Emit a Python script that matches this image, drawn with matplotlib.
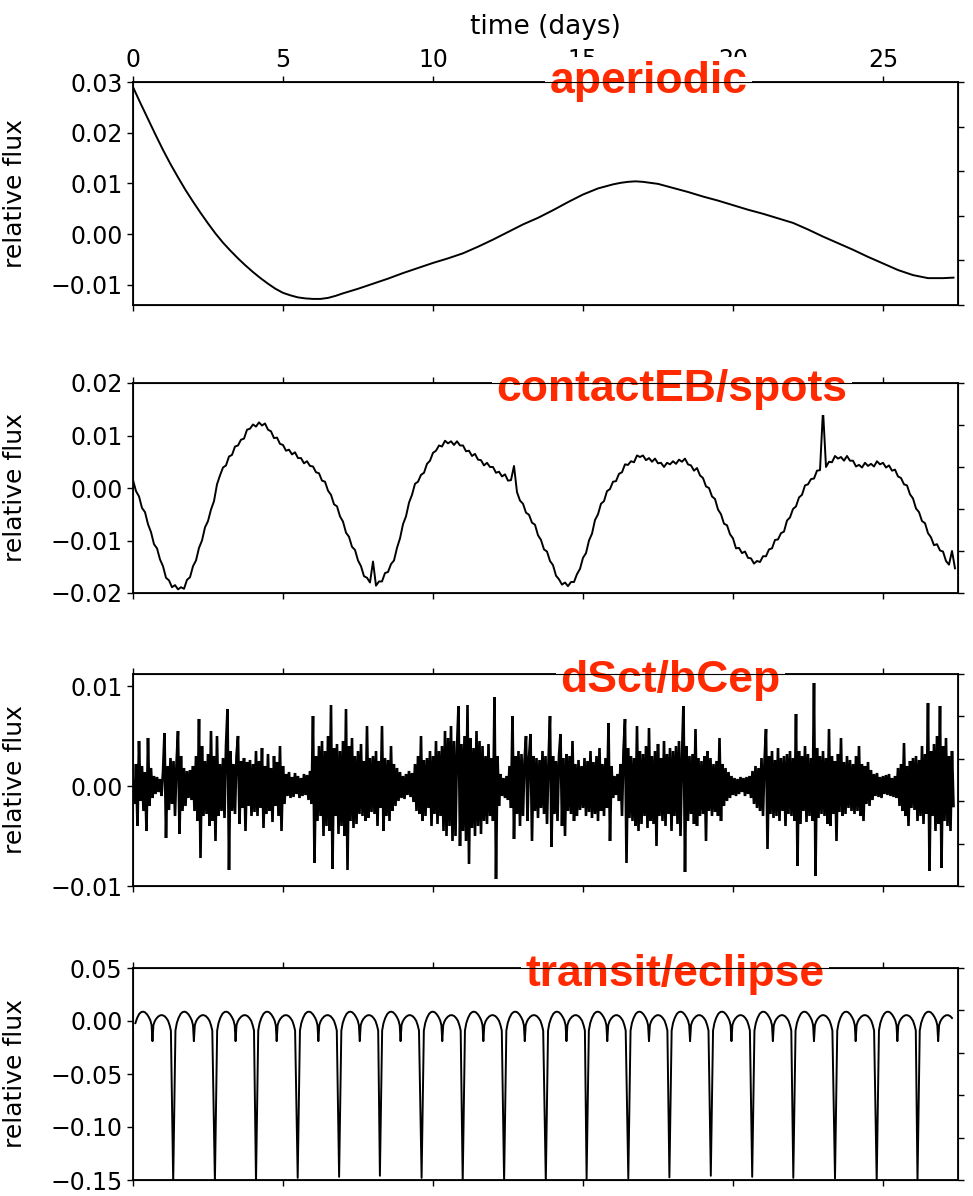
import numpy as np
import matplotlib.pyplot as plt

# ---- aperiodic light curve (days, relative flux in units of 1e-4)
aper_t = [0.0, 0.25, 0.5, 0.75, 1.0, 1.25, 1.5, 1.75, 2.0, 2.25, 2.5, 2.75,
          3.0, 3.25, 3.5, 3.75, 4.0, 4.25, 4.5, 4.75, 5.0, 5.25, 5.5, 5.75,
          6.0, 6.25, 6.5, 6.75, 7.0, 7.5, 8.0, 8.5, 9.0, 9.5, 10.0, 10.5, 11.0,
          11.5, 12.0, 12.5, 13.0, 13.5, 14.0, 14.5, 15.0, 15.5, 16.0, 16.25,
          16.5, 16.75, 17.0, 17.25, 17.5, 18.0, 18.5, 19.0, 19.5, 20.0, 20.5,
          21.0, 21.5, 22.0, 22.5, 23.0, 23.5, 24.0, 24.5, 25.0, 25.5, 26.0,
          26.5, 27.0, 27.35]
aper_flux = [290, 258, 227, 196, 166, 138, 112, 87, 64, 42, 21, 1,
             -17, -33, -48, -62, -75, -87, -98, -108, -116, -121, -125, -127,
             -128, -128, -126, -122, -117, -108, -98, -88, -77, -67, -57, -48, -38,
             -25, -11, 4, 19, 32, 47, 63, 78, 90, 98, 101,
             103, 104, 103, 101, 99, 91, 83, 74, 66, 57, 48,
             40, 31, 22, 9, -5, -18, -31, -45, -58, -71, -81,
             -87, -87, -86]

# ---- contact binary / spots, one value every 0.1 d, in units of 1e-4
contact_step = 0.1
contact_flux = [
    15, -6, -16, -38, -46, -69, -84, -107, -115, -136,
    -149, -171, -176, -189, -185, -193, -189, -192, -175, -170,
    -149, -138, -114, -100, -75, -63, -41, -25, 7, 24,
    39, 43, 60, 63, 79, 81, 92, 94, 111, 113,
    121, 117, 125, 119, 123, 111, 108, 95, 96, 84,
    82, 71, 73, 64, 68, 57, 57, 47, 51, 42,
    41, 30, 28, 14, 12, -5, -13, -31, -35, -54,
    -64, -85, -93, -112, -118, -138, -149, -168, -171, -180,
    -140, -186, -178, -178, -162, -160, -145, -138, -114, -96,
    -69, -54, -28, -13, 8, 12, 25, 29, 46, 52,
    67, 71, 81, 79, 90, 85, 89, 82, 89, 81,
    81, 70, 71, 61, 65, 54, 53, 43, 48, 40,
    40, 29, 31, 22, 26, 14, 15, 42, -8, -24,
    -30, -47, -51, -66, -70, -90, -99, -117, -121, -139,
    -147, -167, -174, -184, -180, -187, -179, -179, -164, -154,
    -133, -124, -100, -87, -61, -50, -30, -25, -6, -2,
    12, 13, 27, 30, 45, 44, 51, 49, 62, 59,
    62, 53, 57, 50, 56, 47, 48, 40, 48, 45,
    51, 46, 54, 50, 56, 45, 43, 33, 38, 24,
    19, 3, 0, -16, -21, -41, -50, -68, -71, -88,
    -96, -115, -114, -124, -121, -133, -134, -144, -139, -141,
    -130, -130, -117, -115, -99, -98, -86, -83, -62, -56,
    -40, -35, -18, -13, 5, 7, 17, 18, 33, 34,
    149, 40, 50, 49, 61, 56, 59, 52, 61, 52,
    52, 41, 44, 39, 48, 42, 46, 41, 51, 45,
    48, 39, 43, 33, 35, 22, 19, 7, 5, -12,
    -20, -39, -46, -63, -67, -86, -94, -109, -107, -119,
    -121, -139, -146, -120, -153,
]

# ---- dSct / bCep pulsator, one value every 0.05 d, in units of 1e-4
dsct_step = 0.05
dsct_flux = [
    5, -18, 22, -40, 45, -15, 20, -25, 14, -45, 48, -20, 18, -12, 10, -8, 9, -6, 7, -10,
    14, 53, -52, 20, -24, 28, -18, 25, -30, 22, 55, -48, 30, -25, 18, -20, 15, -12, 16, -14,
    20, -25, 30, -35, 67, -72, 40, -30, 25, -28, 32, -40, 55, -35, 30, -55, 50, -30, 22, -25,
    28, -32, 40, 77, -84, 35, -25, 22, -28, 30, 50, -38, 25, -22, 28, -45, 24, -20, 26, -30,
    22, -26, 35, -30, 25, -22, 38, -42, 20, -28, 32, -25, 18, -36, 30, -20, 24, -30, 40, -45,
    20, -18, 12, -10, 14, -12, 9, -11, 13, -8, 10, -12, 8, -10, 12, -9, 11, -14, 15, -18,
    70, -77, 30, -35, 40, -30, 45, -50, 35, -40, 50, -45, 81, -83, 38, -30, 42, -48, 35, -40,
    45, -50, 77, -84, 40, -35, 48, -42, 30, -38, 35, -28, 42, -30, 25, -35, 60, -32, 28, -26,
    30, -28, 35, -40, 25, -22, 60, -45, 28, -30, 26, -35, 40, -25, 22, -20, 18, -15, 14, -12,
    10, -13, 12, -9, 15, -11, 13, -16, 22, -25, 30, -28, 50, -35, 26, -30, 28, -22, 35, -40,
    30, -28, 45, -38, 35, -30, 40, -45, 55, -50, 48, -40, 60, -55, 45, -50, 38, 80, -60, 42,
    -45, 50, -55, 81, -78, 48, -42, 38, -50, 55, -40, 45, -48, 40, -35, 30, -38, 42, -30, 28,
    -35, 89, -93, 30, -20, 12, -10, 8, -12, 10, -14, 20, -22, 70, -53, 30, -28, 35, -40, 32,
    -30, 25, 50, -35, 28, 52, -55, 30, -25, 28, -32, 26, -22, 35, -28, 30, -38, 25, 70, -61,
    30, -28, 25, -35, 30, 52, -40, 28, -50, 32, -25, 30, -28, 45, -35, 22, -30, 26, -24, 20,
    -22, 28, -30, 25, -26, 35, -32, 24, -28, 30, -35, 38, -25, 22, -30, 28, -22, 63, -55, 20,
    -12, 10, -9, 12, -15, 22, -30, 35, 67, -77, 38, -32, 30, -35, 28, -40, 60, -45, 35, -38,
    32, -30, 40, -42, 58, -35, 30, -38, 35, -60, 42, -30, 28, -35, 45, -40, 32, -28, 38, -45,
    35, -30, 40, -38, 45, -50, 30, 84, -86, 40, -35, 30, -28, 32, -38, 57, -40, 28, -30, 25,
    -28, 30, -55, 35, -25, 28, -30, 22, -26, 25, -30, 48, -35, 22, -20, 18, -15, 14, -12, 10,
    -9, 8, -10, 7, -8, 9, -6, 8, -10, 9, -8, 10, -12, 15, -18, 20, -22, 18, -25, 28,
    -30, 25, 57, -63, 30, -28, 35, -32, 26, -30, 38, -35, 28, -25, 30, -40, 32, -28, 35, -30,
    28, -35, 72, -80, 35, -38, 30, -25, 40, -36, 32, -30, 28, -35, 103, -90, 38, -32, 30, -28,
    35, -30, 28, -38, 57, -40, 30, -28, 25, -55, 32, -26, 48, -30, 24, -28, 30, -22, 26, -25,
    22, -28, 30, -25, 40, -30, 22, -35, 20, -18, 24, -20, 16, -14, 12, -10, 13, -11, 9, -12,
    10, -8, 11, -9, 12, -10, 8, -11, 10, -12, 18, -20, 22, -25, 43, -30, 20, -40, 25, -22,
    28, -24, 30, -35, 26, -30, 40, -38, 32, -28, 83, -85, 35, -30, 42, -45, 50, -38, 80, -82,
    40, -35, 48, -40, 30, -45, 35, -20,
]

# ---- eclipsing binary: primary eclipse times and depths
eclipse_t = [-0.04, 1.34, 2.73, 4.10, 5.49, 6.87, 8.23, 9.62, 10.99, 12.37,
             13.76, 15.12, 16.51, 17.88, 19.26, 20.64, 22.01, 23.40, 24.79, 26.15]
eclipse_depth = [-0.152, -0.152, -0.152, -0.152, -0.148, -0.147, -0.146, -0.148,
                 -0.152, -0.152, -0.152, -0.149, -0.1485, -0.1475, -0.146, -0.147,
                 -0.148, -0.1485, -0.152, -0.152]
# one orbit after primary mid-eclipse (days after eclipse, relative flux)
cycle_phase = [0.075, 0.12, 0.18, 0.25, 0.32, 0.38, 0.44, 0.51, 0.57, 0.62,
               0.66, 0.689, 0.72, 0.76, 0.81, 0.88, 0.95, 1.02, 1.09, 1.15,
               1.21, 1.26, 1.303]
cycle_flux = [-0.009, -0.002, 0.003, 0.0068, 0.0085, 0.0088, 0.0082, 0.0062,
              0.0035, 0.0005, -0.004, -0.019, -0.004, -0.0005, 0.002, 0.0042,
              0.0054, 0.0055, 0.0046, 0.0028, 0.0002, -0.004, -0.009]

TITLE_RED = "#ff2a00"


def eb_curve():
    t, f = [], []
    for t0, depth in zip(eclipse_t, eclipse_depth):
        t.append(t0)
        f.append(depth)
        for p, v in zip(cycle_phase, cycle_flux):
            t.append(t0 + p)
            f.append(v)
    t, f = np.array(t), np.array(f)
    keep = (t >= 0.06) & (t <= 27.3)
    return t[keep], f[keep]


fig = plt.figure(figsize=(9.73, 11.96), dpi=100)
W, H = 973.0, 1196.0
left, right = 133, 958
# (top, bottom) of each panel in pixels
panel_px = [(82, 305), (383, 593), (674, 886), (968, 1180)]
axes = [fig.add_axes([left / W, 1 - b / H, (right - left) / W, (b - t) / H])
        for t, b in panel_px]

contact = np.array(contact_flux) * 1e-4
dsct = np.array(dsct_flux) * 1e-4
eb_t, eb_f = eb_curve()

axes[0].plot(aper_t, np.array(aper_flux) * 1e-4, color="black", lw=1.4)
axes[1].plot(np.arange(len(contact)) * contact_step, contact, color="black", lw=1.4)
axes[2].plot(np.arange(len(dsct)) * dsct_step, dsct, color="black", lw=1.9,
             solid_joinstyle="miter")
axes[3].plot(eb_t, eb_f, color="black", lw=1.4)

ylims = [(-0.014, 0.03), (-0.02, 0.02), (-0.01, 0.0112), (-0.15, 0.05)]
yticks = [[-0.01, 0.0, 0.01, 0.02, 0.03], [-0.02, -0.01, 0.0, 0.01, 0.02],
          [-0.01, 0.0, 0.01], [-0.15, -0.10, -0.05, 0.0, 0.05]]
titles = ["aperiodic", "contactEB/spots", "dSct/bCep", "transit/eclipse"]
title_x = [0.625, 0.653, 0.651, 0.657]
title_dy = [0, -5, -5, -5]

for i, ax in enumerate(axes):
    ax.set_xlim(0, 27.5)
    ax.set_ylim(*ylims[i])
    ax.set_xticks([0, 5, 10, 15, 20, 25])
    ax.set_yticks(yticks[i])
    ax.set_yticklabels(["{:.2f}".format(v).replace("-", "\u2212") for v in yticks[i]])
    ax.tick_params(axis="both", direction="out", labelsize=17, width=1.0, length=4)
    ax.tick_params(axis="x", top=True, bottom=True, labelbottom=False, labeltop=(i == 0))
    for s in ax.spines.values():
        s.set_linewidth(1.3)
    ax.set_ylabel("relative flux", fontsize=18)
    ax.yaxis.set_label_coords(-0.128, 0.5)

    tw = ax.twinx()
    tw.set_ylim(0, 1)
    tw.set_yticks(np.linspace(0, 1, 6))
    tw.tick_params(axis="y", labelright=False, direction="out", width=1.0, length=4)

    ax.annotate(titles[i], xy=(title_x[i], 1.0), xycoords="axes fraction",
                xytext=(0, title_dy[i]), textcoords="offset points",
                ha="center", va="center", fontsize=32, fontweight="bold",
                family=["Liberation Sans", "DejaVu Sans"], color=TITLE_RED,
                bbox=dict(boxstyle="square,pad=0.1", fc="white", ec="none"),
                zorder=10, annotation_clip=False)

axes[0].set_xlabel("time (days)", fontsize=19, labelpad=10)
axes[0].xaxis.set_label_position("top")

fig.savefig("out.png", dpi=100)
